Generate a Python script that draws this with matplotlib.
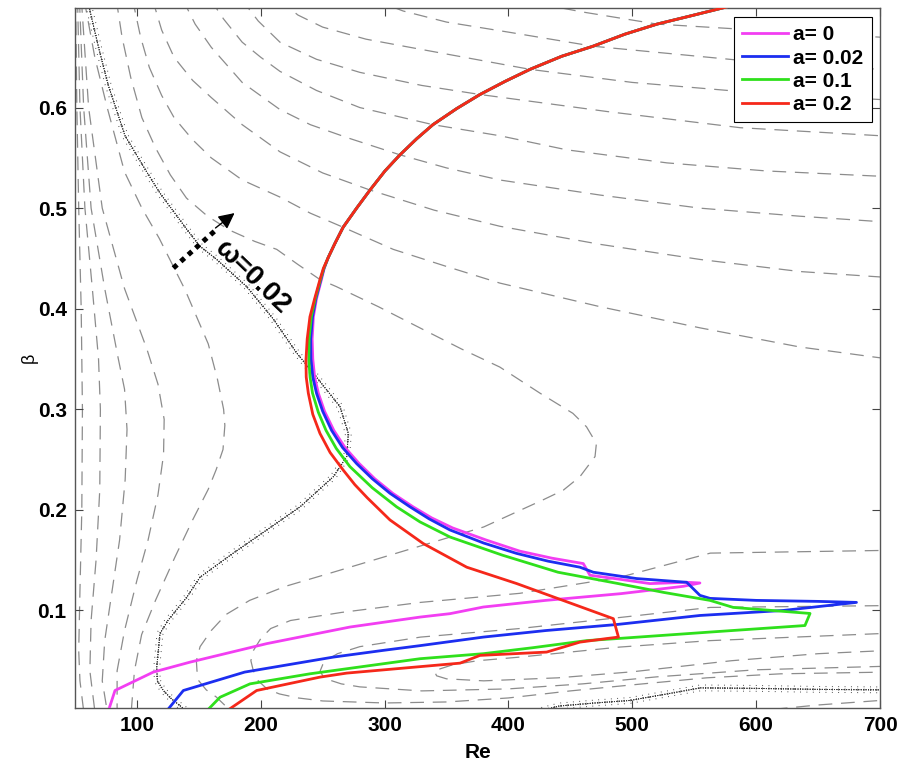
import matplotlib
matplotlib.use("Agg")
import matplotlib.pyplot as plt
import matplotlib.patheffects as pe

plt.rcParams['font.family'] = ['Liberation Sans', 'DejaVu Sans']

# upper branch, shared by all four neutral curves (Re, beta)
re_top = [576, 546.6, 520, 494.1, 468.3, 443, 417.4, 397.2, 377, 358.2, 339, 325.9, 312.4, 300.3,
          288.2, 277.4, 266.5, 259.9, 254.5]
beta_top = [0.700, 0.691, 0.683, 0.673, 0.661, 0.651, 0.638, 0.626, 0.613, 0.599, 0.583, 0.569,
            0.553, 0.537, 0.518, 0.500, 0.481, 0.465, 0.451]

# rest of each neutral curve, from the nose down to the bottom edge
re_a0 = [251.2, 249, 245, 242.5, 241.5, 242, 243.5, 246.5, 251.5, 259, 268, 279.5, 292, 306.5, 323,
         338, 355, 382, 409, 435, 460.4, 465.8, 490, 514.3, 543.9, 554.6, 541.2, 490.8, 430, 379.7,
         352.8, 328.6, 272, 204.8, 142.9, 113.2, 82.3, 76.9]
beta_a0 = [0.44, 0.429, 0.41, 0.392, 0.37, 0.35, 0.332, 0.316, 0.298, 0.279, 0.262, 0.246, 0.231,
           0.2165, 0.203, 0.192, 0.182, 0.17, 0.159, 0.152, 0.1466, 0.135, 0.131, 0.1267, 0.128,
           0.1273, 0.124, 0.1167, 0.11, 0.1034, 0.0968, 0.0934, 0.0835, 0.067, 0.0486, 0.0387,
           0.0204, 0.0]

re_a002 = [251, 248.5, 244.5, 241.8, 240.3, 240.5, 242, 245, 250, 257.2, 266, 277.4, 290, 304.3,
           320.5, 336, 352.8, 380, 406.6, 432, 457.7, 468.5, 503.5, 543.9, 554.6, 562.7, 600, 650,
           681, 622, 554.6, 487.4, 430, 379.7, 328.6, 298.9, 258.5, 187, 137.5, 124]
beta_a002 = [0.44, 0.429, 0.41, 0.392, 0.37, 0.35, 0.332, 0.316, 0.298, 0.279, 0.262, 0.246, 0.231,
             0.2165, 0.203, 0.191, 0.18, 0.167, 0.1567, 0.149, 0.143, 0.138, 0.1317, 0.128, 0.115,
             0.112, 0.11, 0.109, 0.108, 0.1, 0.095, 0.086, 0.08, 0.0735, 0.065, 0.0603, 0.0536,
             0.0387, 0.0204, 0.0]

re_a01 = [250.8, 248.2, 244, 240.8, 239, 238.8, 239.8, 241.8, 246.5, 252.7, 261, 272, 290, 309.7,
          328.6, 352.8, 395, 440, 487.4, 525, 562.7, 581.5, 643.5, 639.4, 562.7, 487.4, 463, 420,
          379.7, 328.6, 298.9, 239.7, 191.3, 167.1, 156.3]
beta_a01 = [0.44, 0.429, 0.41, 0.392, 0.37, 0.349, 0.332, 0.316, 0.297, 0.279, 0.261, 0.243, 0.222,
            0.203, 0.188, 0.173, 0.155, 0.138, 0.127, 0.118, 0.11, 0.103, 0.097, 0.085, 0.0785,
            0.072, 0.07, 0.063, 0.057, 0.052, 0.047, 0.037, 0.027, 0.0137, 0.0]

re_a02 = [250.5, 247.8, 243.5, 239.7, 237.5, 236.5, 236.7, 238.4, 242, 247.8, 256, 266.6, 276, 286,
          304.3, 331.2, 366.3, 406.7, 444, 484.7, 488.8, 479, 457.7, 430.8, 377, 360.9, 269.4,
          247.8, 196.7, 172.4]
beta_a02 = [0.44, 0.429, 0.41, 0.392, 0.37, 0.349, 0.332, 0.316, 0.295, 0.276, 0.257, 0.2395, 0.225,
            0.212, 0.19, 0.1665, 0.143, 0.1267, 0.11, 0.0918, 0.0735, 0.072, 0.0685, 0.0586, 0.0553,
            0.0476, 0.0377, 0.0337, 0.0204, 0.0]

labels = ["a= 0", "a= 0.02", "a= 0.1", "a= 0.2"]
colors = ["#f23ef2", "#1c2ef0", "#2fe01c", "#f5281a"]

# omega = 0.02 contour (two pieces)
omega_re_1 = [60.5, 62.1, 69, 76.9, 90.4, 107.9, 118.6, 140.2, 151, 164.4, 188.6, 210, 229, 245,
              264, 270.7, 269.4, 258.6, 231.7, 204.8, 177.8, 150.9, 140.2, 125, 118.6, 116, 116.5,
              121.3, 128, 136.1, 140]
omega_b_1 = [0.705, 0.696, 0.66, 0.622, 0.572, 0.536, 0.515, 0.479, 0.462, 0.449, 0.422, 0.39,
             0.356, 0.332, 0.3026, 0.276, 0.253, 0.233, 0.203, 0.18, 0.157, 0.133, 0.113, 0.09,
             0.077, 0.0436, 0.03, 0.0204, 0.012, 0.004, 0.0]
omega_re_2 = [425, 441, 470, 498, 528, 555, 600, 650, 705]
omega_b_2 = [0.0, 0.005, 0.008, 0.0105, 0.017, 0.023, 0.0225, 0.0215, 0.021]

# other frequency contours (Re, beta)
dash_L1 = [(50.5, 0.71), (51.5, 0.6), (53, 0.5), (55, 0.4), (56, 0.3), (55.5, 0.2), (54, 0.12),
           (53, 0.06), (54, 0.03), (57, 0.0)]
dash_L2 = [(52, 0.71), (54, 0.6), (58, 0.5), (64, 0.42), (69, 0.35), (70.5, 0.3), (70, 0.22),
           (67, 0.15), (63, 0.09), (62, 0.04), (66, 0.0)]
dash_L3 = [(53.5, 0.71), (57, 0.6), (63, 0.5), (74, 0.42), (85, 0.35), (90, 0.32), (92, 0.28),
           (90.5, 0.23), (86, 0.17), (80, 0.12), (74, 0.07), (72, 0.03), (76, 0.0)]
dash_L4 = [(55, 0.71), (61, 0.6), (72, 0.5), (90, 0.42), (108, 0.36), (117, 0.325), (122, 0.29),
           (121.5, 0.255), (117, 0.215), (109, 0.17), (100, 0.13), (90, 0.08), (84, 0.04),
           (84, 0.0)]
dash_L5 = [(57, 0.71), (66, 0.65), (76, 0.6), (90, 0.536), (104, 0.5), (118, 0.47), (138.8, 0.419),
           (157.6, 0.365), (165, 0.33), (170, 0.3), (171, 0.284), (169.5, 0.26), (164, 0.24),
           (157.6, 0.2205), (145, 0.19), (130.7, 0.153), (115, 0.11), (103.8, 0.076), (98, 0.04),
           (95.7, 0.004), (95.5, -0.01)]
dash_T = [(83, 0.71), (88, 0.67), (95, 0.63), (104, 0.59), (115, 0.56), (127, 0.533), (140, 0.51),
          (157, 0.492), (175, 0.478), (195, 0.467), (212.9, 0.459), (230, 0.444), (247.8, 0.429),
          (261, 0.422), (295, 0.402), (330, 0.38), (362, 0.36), (393, 0.342), (425.5, 0.316),
          (452, 0.296), (463, 0.2826), (471, 0.266), (469.9, 0.253), (457.7, 0.233),
          (444.3, 0.2196), (428, 0.21), (380, 0.183), (326, 0.163), (258.5, 0.138), (220, 0.124),
          (191, 0.11), (172, 0.096), (160, 0.08), (151, 0.064), (148, 0.05), (148.5, 0.04),
          (150, 0.03), (156, 0.021), (164, 0.014), (180, -0.005)]
dash_S = [(96, 0.71), (103, 0.67), (110, 0.64), (120, 0.612), (130, 0.59), (145, 0.568),
          (160, 0.55), (185, 0.528), (215.5, 0.511), (240, 0.495), (266.5, 0.481), (307, 0.459),
          (350, 0.442), (393, 0.4255), (474, 0.402), (554.6, 0.381), (635, 0.362), (695, 0.352),
          (720, 0.348)]
dash_R = [(112, 0.71), (120, 0.677), (130, 0.65), (145, 0.627), (160, 0.61), (185, 0.583),
          (215.5, 0.556), (250, 0.535), (288.2, 0.518), (340, 0.498), (393, 0.482), (474, 0.464),
          (554.6, 0.449), (635, 0.437), (695, 0.432), (720, 0.43)]
dash_Q = [(136, 0.71), (147, 0.683), (160, 0.66), (185, 0.625), (215.5, 0.598), (240, 0.583),
          (270, 0.57), (312.4, 0.553), (350, 0.54), (393, 0.528), (474, 0.513), (554.6, 0.5),
          (635, 0.492), (695, 0.487), (720, 0.486)]
dash_P = [(158, 0.71), (170, 0.688), (185, 0.665), (200, 0.65), (215.5, 0.636), (245, 0.617),
          (280, 0.6), (339, 0.583), (393, 0.572), (447, 0.558), (528, 0.545), (608, 0.537),
          (695, 0.532), (720, 0.531)]
dash_U4 = [(183, 0.71), (198, 0.686), (215.5, 0.665), (245, 0.648), (280, 0.635), (330, 0.622),
           (377, 0.613), (480, 0.596), (587, 0.58), (700, 0.572), (720, 0.571)]
dash_U3 = [(212, 0.71), (230, 0.692), (250, 0.68), (285, 0.668), (320, 0.66), (417.4, 0.638),
           (500, 0.625), (587, 0.616), (700, 0.608), (720, 0.607)]
dash_U2 = [(285, 0.71), (315, 0.696), (350, 0.685), (400, 0.675), (468.3, 0.661), (587, 0.647),
           (700, 0.638), (720, 0.637)]
dash_U1 = [(400, 0.71), (430, 0.702), (460, 0.695), (519.9, 0.683), (587, 0.678), (700, 0.67),
           (720, 0.669)]
dash_V1 = [(720, 0.16), (563, 0.157), (490, 0.133), (409, 0.117), (329, 0.108), (265, 0.098),
           (224, 0.09), (208, 0.082), (200, 0.072), (194, 0.06), (192, 0.05), (194, 0.04),
           (198, 0.03), (205, 0.022), (215, 0.017), (230, 0.013), (250, 0.01), (300, 0.008),
           (350, 0.009), (400, 0.013), (450, 0.02), (500, 0.026), (560, 0.033), (620, 0.037),
           (720, 0.039)]
dash_V2 = [(720, 0.105), (563, 0.103), (490, 0.093), (409, 0.082), (329, 0.0735), (280, 0.064),
           (262, 0.057), (255, 0.052), (250, 0.046), (248, 0.04), (250, 0.035), (255, 0.031),
           (265, 0.027), (280, 0.024), (330, 0.02), (400, 0.022), (460, 0.027), (520, 0.034),
           (600, 0.041), (720, 0.045)]
dash_V3 = [(720, 0.078), (563, 0.07), (490, 0.0636), (409, 0.0536), (375, 0.05), (355, 0.046),
           (340, 0.04), (342, 0.035), (350, 0.032), (380, 0.03), (440, 0.033), (500, 0.039),
           (580, 0.05), (650, 0.057), (720, 0.061)]
dash_W = [(560, -0.005), (600, 0.0), (650, 0.006), (700, 0.0105), (720, 0.012)]

dash_lines = [dash_L1, dash_L2, dash_L3, dash_L4, dash_L5, dash_T, dash_S, dash_R, dash_Q, dash_P,
              dash_U4, dash_U3, dash_U2, dash_U1, dash_V1, dash_V2, dash_V3, dash_W]

fig = plt.figure(figsize=(9, 7.63), dpi=100)
ax = fig.add_axes([75 / 900, 55 / 763, 805 / 900, 700 / 763])

for pts in dash_lines:
    xs, ys = zip(*pts)
    ax.plot(xs, ys, color="#8c8c8c", lw=0.9, dashes=(11, 7), zorder=1)

ticks = [pe.withTickedStroke(angle=90, spacing=4.5, length=0.7, linewidth=0.6, foreground="#333333"),
         pe.withTickedStroke(angle=-90, spacing=4.5, length=0.7, linewidth=0.6, foreground="#333333"),
         pe.Normal()]
for xs, ys in [(omega_re_1, omega_b_1), (omega_re_2, omega_b_2)]:
    ax.plot(xs, ys, color="#333333", lw=0.7, ls=(0, (1, 1.5)), path_effects=ticks, zorder=2)

for tail_re, tail_b, lab, col in zip([re_a0, re_a002, re_a01, re_a02],
                                     [beta_a0, beta_a002, beta_a01, beta_a02], labels, colors):
    ax.plot(re_top + tail_re, beta_top + tail_b, color=col, lw=2.0, label=lab, zorder=3)

# omega label and dotted arrow
ax.text(193, 0.431, "ω=0.02", rotation=-44, rotation_mode="anchor", ha="center", va="center",
        fontsize=20, fontweight="bold", zorder=4)
ax.plot([129.4, 163], [0.4404, 0.4775], color="k", lw=3.6, ls=(0, (1, 1)), zorder=4)
ax.annotate("", xy=(180.6, 0.4968), xytext=(161.7, 0.4786),
            arrowprops=dict(arrowstyle="-|>", mutation_scale=24, color="k", lw=1), zorder=4)

ax.set_xlim(50, 700)
ax.set_ylim(0.003, 0.699)
ax.set_xticks([100, 200, 300, 400, 500, 600, 700])
ax.set_yticks([0.1, 0.2, 0.3, 0.4, 0.5, 0.6])
ax.tick_params(direction="in", top=True, right=True, length=6, width=0.8, color="#444444",
               labelsize=15, pad=6)
for t in ax.get_xticklabels() + ax.get_yticklabels():
    t.set_fontweight("bold")
for s in ax.spines.values():
    s.set_color("#555555")
    s.set_linewidth(1.0)

ax.set_xlabel("Re", fontsize=15, fontweight="bold")
ax.xaxis.set_label_coords(0.5, -0.05)
ax.set_ylabel("β", fontsize=13)
ax.yaxis.set_label_coords(-0.046, 0.5)

leg = ax.legend(loc="upper right", bbox_to_anchor=(0.99, 0.987), borderaxespad=0, fancybox=False,
                framealpha=1, edgecolor="k", handlelength=2.2, handletextpad=0.25, borderpad=0.4,
                labelspacing=0.2, prop={"weight": "bold", "size": 15})
leg.get_frame().set_linewidth(0.8)

fig.savefig("out.png", dpi=100)
